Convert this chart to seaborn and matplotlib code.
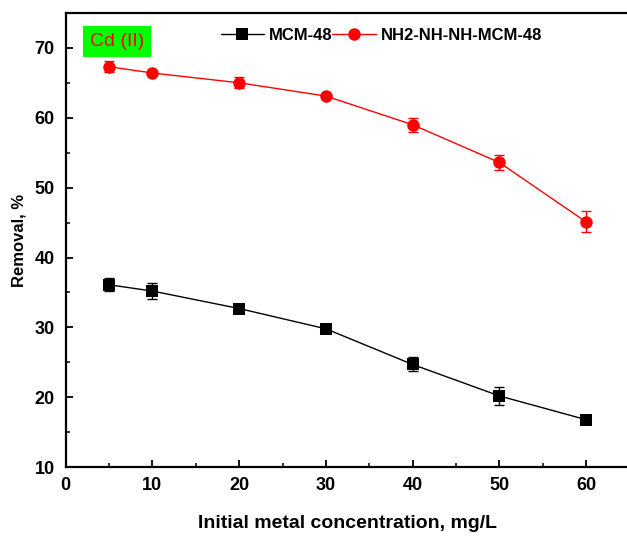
import numpy as np
import pandas as pd
import seaborn as sns
import matplotlib.pyplot as plt
from matplotlib.ticker import MultipleLocator

# data
conc = [5, 10, 20, 30, 40, 50, 60]
mcm48 = [36.1, 35.2, 32.7, 29.8, 24.7, 20.2, 16.8]
mcm48_err = [0.9, 1.1, 0.3, 0.3, 1.0, 1.3, 0.3]
modified = [67.3, 66.4, 65.0, 63.1, 59.0, 53.6, 45.1]
modified_err = [0.8, 0.3, 0.8, 0.3, 1.0, 1.1, 1.5]
names = ["MCM-48", "NH2-NH-NH-MCM-48"]

sns.set_style("ticks", {"text.color": "black", "axes.labelcolor": "black",
                        "xtick.color": "black", "ytick.color": "black",
                        "axes.edgecolor": "black"})
plt.rcParams["font.family"] = ["Liberation Sans", "DejaVu Sans"]

fig = plt.figure(figsize=(6.27, 5.37), dpi=100)
ax = fig.add_axes([0.1048, 0.130, 0.899, 0.846])

# two series, drawn separately so each keeps its own marker size
sns.lineplot(x=conc, y=mcm48, color="black", marker="s", markersize=8,
             markeredgewidth=0, linewidth=1, label=names[0], ax=ax)
sns.lineplot(x=conc, y=modified, color="red", marker="o", markersize=9,
             markeredgewidth=0, linewidth=1, label=names[1], ax=ax)

ax.errorbar(conc, mcm48, yerr=mcm48_err, fmt="none", ecolor="black",
            elinewidth=1, capsize=3.5, capthick=1)
ax.errorbar(conc, modified, yerr=modified_err, fmt="none", ecolor="red",
            elinewidth=1, capsize=3.5, capthick=1)

ax.xaxis.set_major_locator(MultipleLocator(10))
ax.xaxis.set_minor_locator(MultipleLocator(5))
ax.yaxis.set_major_locator(MultipleLocator(10))
ax.yaxis.set_minor_locator(MultipleLocator(5))
ax.set_xlim(0, 65)
ax.set_ylim(10, 75)
ax.tick_params(which="major", direction="in", length=5, width=1.3,
               labelsize=13, pad=7)
ax.tick_params(which="minor", direction="in", length=3, width=1.1)
ax.tick_params(axis="y", which="major", pad=8)
for lab in ax.get_xticklabels() + ax.get_yticklabels():
    lab.set_fontweight("bold")

for s in ax.spines.values():
    s.set_linewidth(1.6)
ax.spines["right"].set_visible(False)

ax.set_xlabel("Initial metal concentration, mg/L", fontsize=14,
              fontweight="bold", labelpad=15)
ax.set_ylabel("Removal, %", fontsize=12, fontweight="bold", labelpad=6)

leg = ax.legend(loc="upper center", bbox_to_anchor=(0.56, 1.0), ncol=2,
                frameon=False, columnspacing=0.0, handlelength=2.6,
                handletextpad=0.3, prop={"weight": "bold", "size": 12})

ax.text(0.043, 0.955, "Cd (II)", transform=ax.transAxes, color="red",
        fontsize=14, va="top", ha="left",
        bbox=dict(facecolor="#00ff00", edgecolor="none", pad=5))

fig.savefig("out.png", dpi=100)
